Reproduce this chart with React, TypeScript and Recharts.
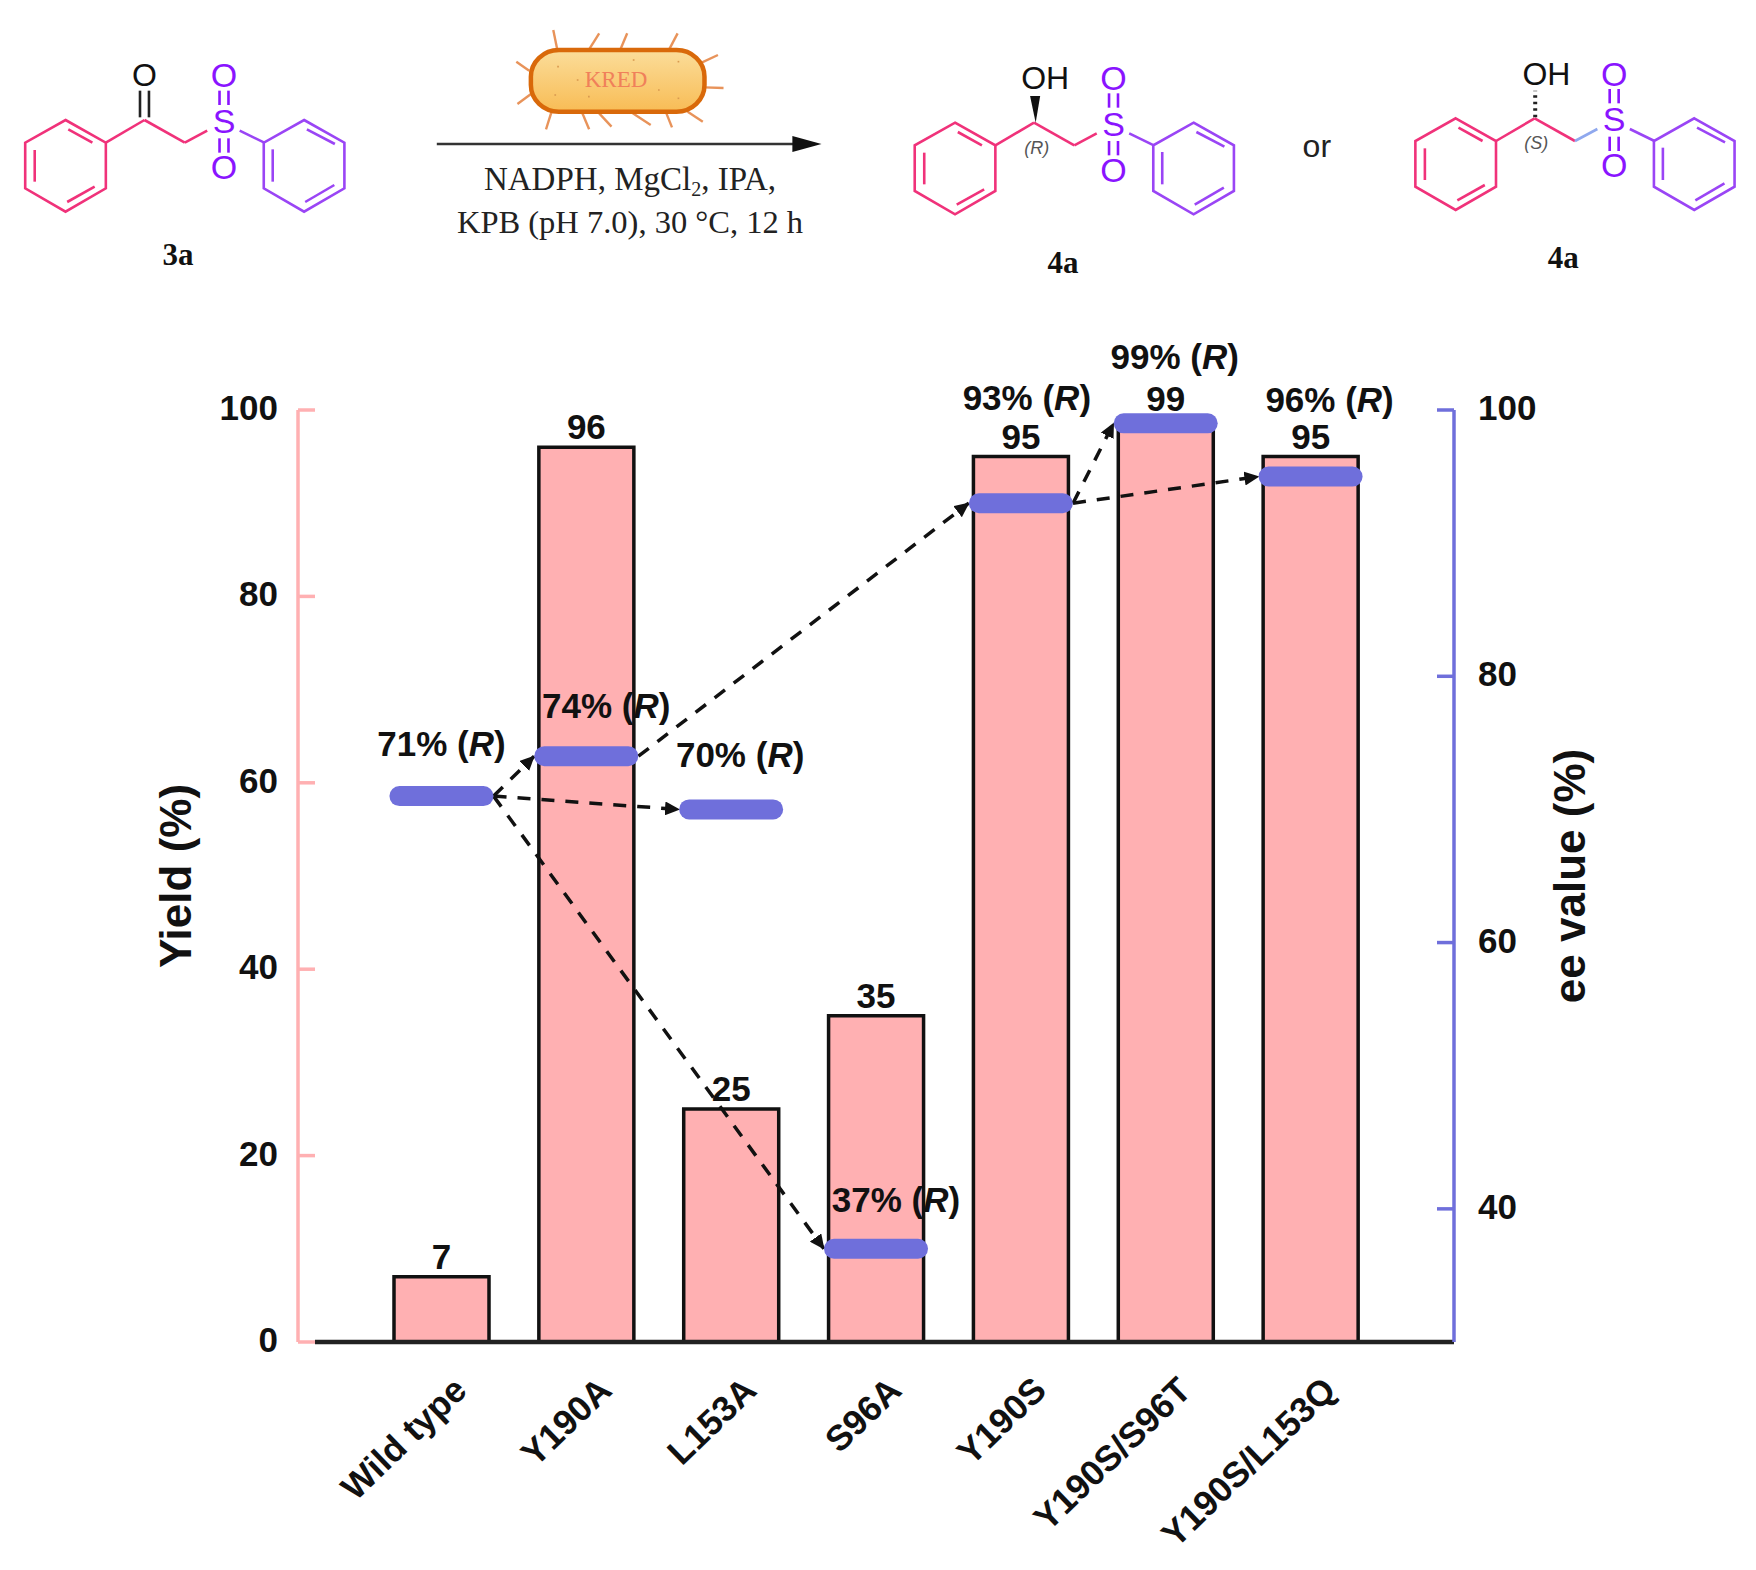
import {
  ComposedChart, Bar, Line, XAxis, YAxis, LabelList, ReferenceLine
} from 'recharts'

const categories = ['Wild type', 'Y190A', 'L153A', 'S96A', 'Y190S', 'Y190S/S96T', 'Y190S/L153Q']
const yieldValues = [7, 96, 25, 35, 95, 99, 95]
const eeValues = [71, 74, 70, 37, 93, 99, 95]
const eeLabels = ['71%', '74%', '70%', '37%', '93%', '99%', '96%']
const yieldTicks = [0, 20, 40, 60, 80, 100]
const eeTicks = [40, 60, 80, 100]
const arrows = [[0, 1], [0, 2], [0, 3], [1, 4], [4, 5], [4, 6]]

// label nudges from the marker, px
const labelShift = [[0, -52], [20, -50], [9, -54], [20, -49], [6, -105], [9, -66], [19, -77]]

const PINK = '#FFB0B2'
const BLUE = '#6F6FDB'
const ROSE = '#F0327A'
const VIOLET = '#9A45F5'
const PURPLE = '#8A14FF'
const SANS = '"Liberation Sans", Arial, sans-serif'
const SERIF = '"Liberation Serif", serif'
const CAP_HALF = 0.36
// the scheme above the chart was measured in crops stretched by these factors
const SX = 0.56
const SY = 1 / 3

const rows = categories.map((name, i) => ({ name, idx: i, yield: yieldValues[i], ee: eeValues[i] }))

const LeftTick = ({ x, y, payload }: any) => (
  <g>
    <line x1={x} x2={x + 17} y1={y} y2={y} stroke={PINK} strokeWidth={3.5} />
    <text x={x - 20} y={y + 10} textAnchor="end" fontFamily={SANS} fontWeight="bold" fontSize={35} fill="#111">{payload.value}</text>
  </g>
)

const RightTick = ({ x, y, payload }: any) => (
  <g>
    <line x1={x} x2={x - 17} y1={y} y2={y} stroke={BLUE} strokeWidth={3.5} />
    <text x={x + 24} y={y + 10} textAnchor="start" fontFamily={SANS} fontWeight="bold" fontSize={35} fill="#111">{payload.value}</text>
  </g>
)

const CategoryTick = ({ x, y, payload }: any) => (
  <text
    transform={`translate(${x + 19},${y + 42}) rotate(-44)`}
    textAnchor="end"
    dominantBaseline="central"
    fontFamily={SANS}
    fontWeight="bold"
    fontSize={35.5}
    fill="#111"
  >
    {payload.value}
  </text>
)

const Capsule = ({ cx, cy, index }: any) => (
  <rect key={index} x={cx - 52} y={cy - 10} width={104} height={20} rx={10} fill={BLUE} />
)

const EeLabel = ({ x, y, index }: any) => {
  const [dx, dy] = labelShift[index]
  return (
    <text x={x + dx} y={y + dy + 12} textAnchor="middle" fontFamily={SANS} fontWeight="bold" fontSize={35} fill="#111">
      {eeLabels[index]} (<tspan fontStyle="italic">R</tspan>)
    </text>
  )
}

// text inside the stretched group, undoing the stretch
const Txt = ({ x, y, children, ...rest }: any) => (
  <text transform={`translate(${x},${y}) scale(${1 / SX},${1 / SY})`} textAnchor="middle" {...rest}>{children}</text>
)

const Ring = ({ cx, color, inner }: any) => {
  const t = 360, u = 428, l = 565, b = 635
  return (
    <g stroke={color} strokeWidth={2.6} fill="none">
      <polygon points={`${cx},${t} ${cx + 72},${u} ${cx + 72},${l} ${cx},${b} ${cx - 72},${l} ${cx - 72},${u}`} />
      {inner === 'left' ? (
        <>
          <line x1={cx + 5} y1={388} x2={cx + 48} y2={428} />
          <line x1={cx - 55} y1={450} x2={cx - 55} y2={545} />
          <line x1={cx + 3} y1={606} x2={cx + 52} y2={560} />
        </>
      ) : (
        <>
          <line x1={cx + 5} y1={388} x2={cx + 55} y2={432} />
          <line x1={cx - 56} y1={448} x2={cx - 56} y2={545} />
          <line x1={cx + 2} y1={606} x2={cx + 54} y2={555} />
        </>
      )}
    </g>
  )
}

const Skeleton = ({ dx, dy, linkColor }: any) => (
  <g transform={`translate(${dx},${dy})`}>
    <Ring cx={117} color={ROSE} inner="left" />
    <Ring cx={543} color={VIOLET} inner="right" />
    <g stroke={ROSE} strokeWidth={2.6}>
      <line x1={189} y1={428} x2={258} y2={360} />
      <line x1={258} y1={360} x2={330} y2={428} />
    </g>
    <line x1={330} y1={428} x2={370} y2={392} stroke={linkColor || ROSE} strokeWidth={2.6} />
    <line x1={428} y1={392} x2={472} y2={428} stroke={VIOLET} strokeWidth={2.6} />
    <g stroke={PURPLE} strokeWidth={2.6}>
      <line x1={392} y1={272} x2={392} y2={315} />
      <line x1={408} y1={272} x2={408} y2={315} />
      <line x1={392} y1={415} x2={392} y2={458} />
      <line x1={408} y1={415} x2={408} y2={458} />
    </g>
    <g fontFamily={SANS} fontSize={34} fill={PURPLE}>
      <Txt x={400} y={262}>O</Txt>
      <Txt x={400} y={399}>S</Txt>
      <Txt x={400} y={537}>O</Txt>
    </g>
  </g>
)

const spikes = [
  [995, 148, 988, 90], [1052, 148, 1070, 100], [1108, 148, 1120, 100], [1195, 148, 1210, 100],
  [1250, 190, 1282, 165], [1258, 262, 1292, 264], [1228, 335, 1255, 365], [1190, 340, 1200, 382],
  [1130, 340, 1162, 375], [1070, 340, 1092, 380], [1040, 340, 1052, 388], [985, 335, 975, 388],
  [950, 280, 924, 312], [945, 212, 922, 185]
]
const specks = [[995, 200], [1030, 240], [1210, 185], [1175, 270], [1210, 295], [990, 285], [1050, 290], [1130, 180]]

const Header = () => (
  <svg width={1756} height={300} style={{ position: 'absolute', left: 0, top: 0 }}>
    <defs>
      <linearGradient id="cellFill" x1="0" y1="0" x2="0" y2="1">
        <stop offset="0%" stopColor="#FBDD9A" />
        <stop offset="100%" stopColor="#F8BC55" />
      </linearGradient>
    </defs>
    <style>{'.scheme line, .scheme polygon, .scheme rect { vector-effect: non-scaling-stroke; }'}</style>
    <g className="scheme" transform={`scale(${SX},${SY})`}>
      <Skeleton dx={0} dy={0} />
      <g stroke="#222" strokeWidth={2.6}>
        <line x1={250} y1={352} x2={250} y2={272} />
        <line x1={266} y1={352} x2={266} y2={272} />
      </g>
      <Txt x={258} y={258} fontFamily={SANS} fontSize={32} fill="#111">O</Txt>
      <Txt x={318} y={795} fontFamily={SERIF} fontWeight="bold" fontSize={31} fill="#111">3a</Txt>
      {spikes.map((s, i) => (
        <line key={i} x1={s[0]} y1={s[1]} x2={s[2]} y2={s[3]} stroke="#E8935A" strokeWidth={2.4} />
      ))}
      <rect x={948} y={150} width={310} height={185} rx={50} ry={80} fill="url(#cellFill)" stroke="#D9690A" strokeWidth={4.5} />
      {specks.map((p, i) => (
        <line key={i} x1={p[0]} y1={p[1]} x2={p[0] + 3} y2={p[1]} stroke="#D99A50" strokeWidth={1.6} />
      ))}
      <Txt x={1100} y={262} fontFamily={SERIF} fontSize={23} fill="#F0805A">KRED</Txt>
      <line x1={780} y1={432} x2={1425} y2={432} stroke="#333" strokeWidth={2.5} />
      <polygon points="1415,408 1467,432 1415,456" fill="#111" />
      <Txt x={1125} y={570} fontFamily={SERIF} fontSize={33} fill="#222">
        NADPH, MgCl<tspan dy={6} fontSize={20}>2</tspan><tspan dy={-6}>, IPA,</tspan>
      </Txt>
      <Txt x={1125} y={700} fontFamily={SERIF} fontSize={32.5} fill="#222">KPB (pH 7.0), 30 °C, 12 h</Txt>
    </g>
    <g className="scheme" transform={`translate(880,0) scale(${SX},${SY})`}>
      <Skeleton dx={17} dy={8} />
      <polygon points="268,288 286,288 278,368" fill="#111" />
      <Txt x={295} y={268} fontFamily={SANS} fontSize={32} fill="#111">OH</Txt>
      <Txt x={280} y={462} fontFamily={SANS} fontStyle="italic" fontSize={18} fill="#555">(R)</Txt>
      <Txt x={327} y={820} fontFamily={SERIF} fontWeight="bold" fontSize={31} fill="#111">4a</Txt>
      <Txt x={780} y={470} fontFamily={SANS} fontSize={32} fill="#222">or</Txt>
      <Skeleton dx={911} dy={-5} linkColor="#8FA8EE" />
      <line x1={1170} y1={352} x2={1170} y2={272} stroke="#222" strokeWidth={4} strokeDasharray="2.5 4" />
      <Txt x={1190} y={255} fontFamily={SANS} fontSize={32} fill="#111">OH</Txt>
      <Txt x={1172} y={448} fontFamily={SANS} fontStyle="italic" fontSize={18} fill="#555">(S)</Txt>
      <Txt x={1220} y={805} fontFamily={SERIF} fontWeight="bold" fontSize={31} fill="#111">4a</Txt>
    </g>
  </svg>
)

export default function App() {
  return (
    <div style={{ position: 'absolute', left: 0, top: 0, width: 1756, height: 1570, background: '#fff' }}>
      <ComposedChart width={1756} height={1570} data={rows} margin={{ top: 410, right: 0, bottom: 0, left: 0 }}>
        <defs>
          <marker id="arrowHead" markerUnits="userSpaceOnUse" markerWidth={16} markerHeight={14} refX={14} refY={7} orient="auto">
            <path d="M0,0 L15,7 L0,14 Z" fill="#111" />
          </marker>
        </defs>
        <XAxis
          dataKey="name"
          interval={0}
          height={228}
          padding={{ left: 71, right: 71 }}
          axisLine={false}
          tickLine={false}
          tickSize={0}
          tickMargin={0}
          tick={CategoryTick}
        />
        {/* hidden numeric twin of the category axis, 0 = first category centre; only for the arrows */}
        <XAxis xAxisId="num" dataKey="idx" type="number" domain={[-0.99, 6.99]} allowDataOverflow hide />
        <YAxis
          yAxisId="yield"
          width={298}
          domain={[0, 100]}
          ticks={yieldTicks}
          axisLine={{ stroke: PINK, strokeWidth: 3.5 }}
          tickLine={false}
          tickSize={0}
          tickMargin={0}
          tick={LeftTick}
          label={{
            value: 'Yield (%)', angle: -90, position: 'insideLeft', offset: 175, textAnchor: 'middle',
            style: { fontFamily: SANS, fontWeight: 'bold', fontSize: 44, fill: '#111', textAnchor: 'middle' }
          }}
        />
        <YAxis
          yAxisId="ee"
          orientation="right"
          width={302}
          domain={[30, 100]}
          ticks={eeTicks}
          axisLine={{ stroke: BLUE, strokeWidth: 3.5 }}
          tickLine={false}
          tickSize={0}
          tickMargin={0}
          tick={RightTick}
          label={{
            value: 'ee value (%)', angle: -90, position: 'insideLeft', offset: 115, textAnchor: 'middle',
            style: { fontFamily: SANS, fontWeight: 'bold', fontSize: 44, fill: '#111', textAnchor: 'middle' }
          }}
        />
        <Bar yAxisId="yield" dataKey="yield" barSize={95} fill={PINK} stroke="#111" strokeWidth={3.5} isAnimationActive={false}>
          <LabelList dataKey="yield" position="top" offset={8} fontFamily={SANS} fontWeight="bold" fontSize={35} fill="#111" />
        </Bar>
        <ReferenceLine
          xAxisId="num"
          yAxisId="yield"
          segment={[{ x: -0.873, y: 0 }, { x: 6.99, y: 0 }]}
          stroke="#222"
          strokeWidth={4.5}
        />
        {arrows.map(([from, to]) => (
          <ReferenceLine
            key={`${from}-${to}`}
            xAxisId="num"
            yAxisId="ee"
            segment={[{ x: from + CAP_HALF, y: eeValues[from] }, { x: to - CAP_HALF, y: eeValues[to] }]}
            stroke="#111"
            strokeWidth={3.5}
            strokeDasharray="13 11"
            markerEnd="url(#arrowHead)"
          />
        ))}
        <Line yAxisId="ee" dataKey="ee" stroke="none" dot={Capsule} activeDot={false} isAnimationActive={false}>
          <LabelList dataKey="ee" content={EeLabel} />
        </Line>
      </ComposedChart>
      <Header />
    </div>
  )
}
